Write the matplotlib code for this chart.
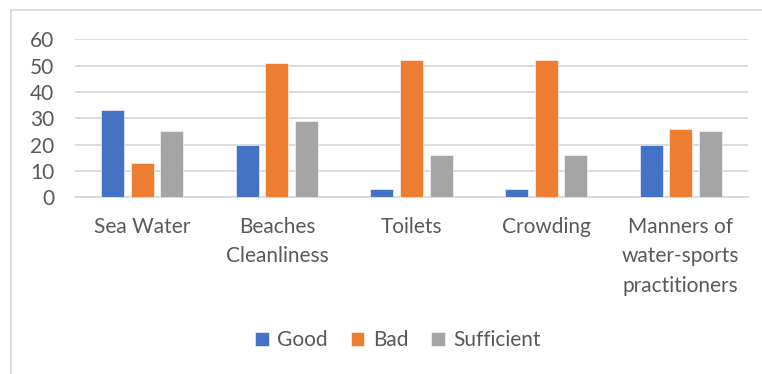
import matplotlib
matplotlib.use("Agg")
import matplotlib.pyplot as plt
import numpy as np
from matplotlib.lines import Line2D

categories = ["Sea Water", "Beaches\nCleanliness", "Toilets", "Crowding",
              "Manners of\nwater-sports\npractitioners"]
good = [33, 20, 3, 3, 20]
bad = [13, 51, 52, 52, 26]
sufficient = [25, 29, 16, 16, 25]
series_names = ["Good", "Bad", "Sufficient"]
colors = ["#4472C4", "#ED7D31", "#A5A5A5"]
yticks = [0, 10, 20, 30, 40, 50, 60]

plt.rcParams['font.family'] = ['Lato', 'DejaVu Sans']
W, H = 762, 374
fig = plt.figure(figsize=(W / 100, H / 100), dpi=100)
ax = fig.add_axes([75 / W, 1 - 197.3 / H, (748 - 75) / W, (197.3 - 39.3) / H])

x = np.arange(len(categories))
step = 0.22
width = 0.17
for i, (vals, name, c) in enumerate(zip([good, bad, sufficient], series_names, colors)):
    ax.bar(x + (i - 1) * step, vals, width, color=c, label=name, zorder=3,
           edgecolor='white', linewidth=0.4)

ax.set_xlim(-0.5, len(categories) - 0.5)
ax.set_ylim(0, 60)
ax.set_yticks(yticks)
ax.set_xticks(x)
ax.set_xticklabels(categories, linespacing=1.6)
ax.yaxis.grid(True, color="#D9D9D9", linewidth=1.3, zorder=0)
for s in ["top", "right", "left"]:
    ax.spines[s].set_visible(False)
ax.spines["bottom"].set_color("#D9D9D9")
ax.spines["bottom"].set_linewidth(1.3)
ax.tick_params(axis="both", length=0, labelsize=15, labelcolor="#595959")
ax.tick_params(axis="x", pad=14)
ax.tick_params(axis="y", pad=15)

leg = fig.legend(loc="center", bbox_to_anchor=(398 / W, 1 - 340 / H), ncol=3,
                 frameon=False, fontsize=15, handlelength=0.65, handleheight=0.65,
                 handletextpad=0.4, columnspacing=1.1)
for t in leg.get_texts():
    t.set_color("#595959")

# chart frame
fig.add_artist(Line2D([11 / W, 11 / W], [0, 1 - 10 / H], transform=fig.transFigure,
                      color="#D9D9D9", linewidth=1.3))
fig.add_artist(Line2D([11 / W, 1], [1 - 10 / H, 1 - 10 / H], transform=fig.transFigure,
                      color="#D9D9D9", linewidth=1.3))

fig.savefig("out.png", dpi=100, facecolor="white")
